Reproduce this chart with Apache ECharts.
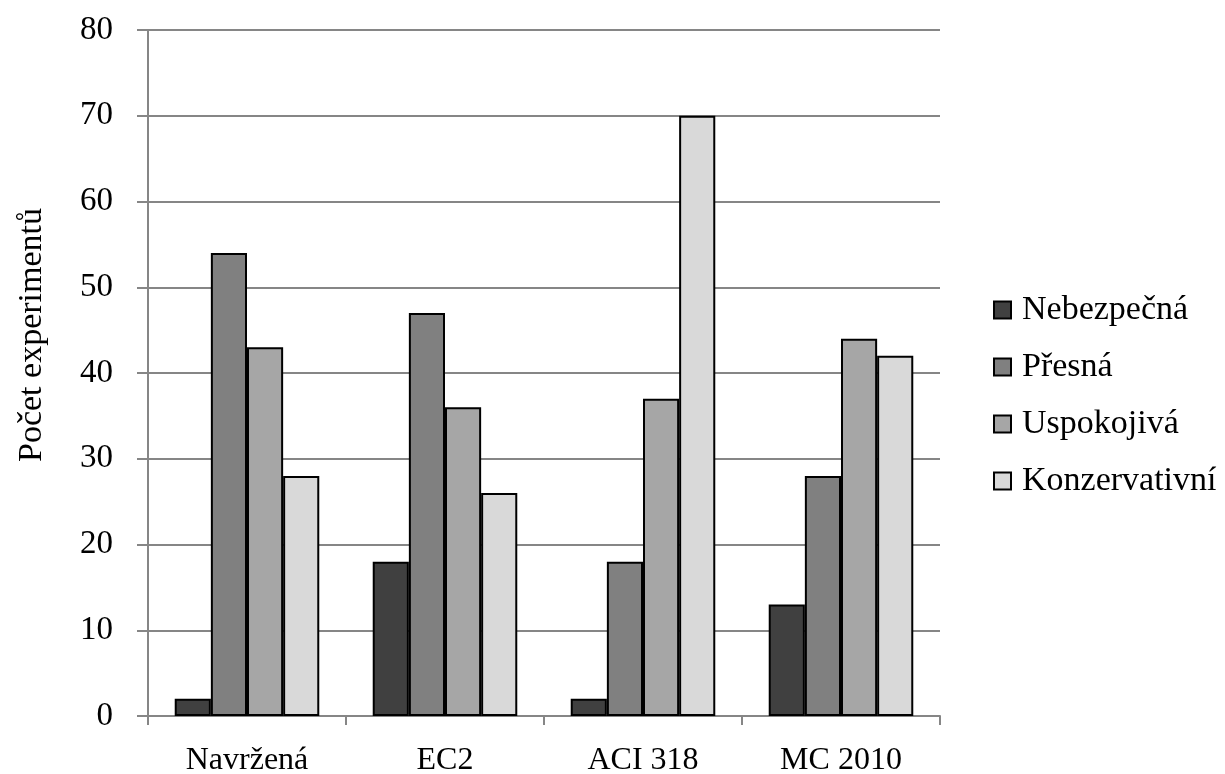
<!DOCTYPE html>
<html><head><meta charset="utf-8">
<script src="https://cdn.jsdelivr.net/npm/echarts@6/dist/echarts.min.js"></script>
<style>html,body{margin:0;padding:0;background:#fff}#c{width:1225px;height:774px}</style>
</head><body><div id="c"></div>
<script>
const categories = ['Navržená', 'EC2', 'ACI 318', 'MC 2010'];
const seriesNames = ['Nebezpečná', 'Přesná', 'Uspokojivá', 'Konzervativní'];
const nebezpecna = [2, 18, 2, 13];
const presna = [54, 47, 18, 28];
const uspokojiva = [43, 36, 37, 44];
const konzervativni = [28, 26, 70, 42];
const yTicks = [0, 10, 20, 30, 40, 50, 60, 70, 80];
const colors = ['#404040', '#808080', '#a6a6a6', '#d9d9d9'];
const values = [nebezpecna, presna, uspokojiva, konzervativni];
const FONT = '"Liberation Serif", "DejaVu Serif", serif';

const chart = echarts.init(document.getElementById('c'));
chart.setOption({
  animation: false,
  backgroundColor: '#fff',
  textStyle: { fontFamily: FONT },
  grid: { left: 148, right: 285, top: 30, bottom: 58, containLabel: false, outerBoundsMode: 'none' },
  legend: {
    orient: 'vertical', left: 993, top: 293, itemGap: 23, padding: 0,
    itemWidth: 17, itemHeight: 17, icon: 'rect',
    textStyle: { fontFamily: FONT, fontSize: 34, color: '#000', padding: [0, 0, 0, 6] },
    data: seriesNames
  },
  xAxis: {
    type: 'category', data: categories,
    axisLine: { lineStyle: { color: '#868686', width: 2 } },
    axisTick: { show: true, length: 9, lineStyle: { color: '#868686', width: 2 } },
    axisLabel: { fontFamily: FONT, fontSize: 32, color: '#000', margin: 29 }
  },
  yAxis: {
    type: 'value', min: 0, max: 80, interval: 10,
    axisLine: { show: true, lineStyle: { color: '#868686', width: 2 } },
    axisTick: { show: true, length: 11, lineStyle: { color: '#868686', width: 2 } },
    splitLine: { lineStyle: { color: '#868686', width: 2 } },
    axisLabel: { fontFamily: FONT, fontSize: 33, color: '#000', margin: 35,
      formatter: v => yTicks.includes(v) ? String(v) : '' }
  },
  graphic: [{
    type: 'text', x: 32, y: 335, rotation: Math.PI / 2,
    style: { text: 'Počet experimentů', font: '34px ' + FONT, fill: '#000',
      align: 'center', verticalAlign: 'middle' }
  }],
  series: seriesNames.map((n, i) => ({
    name: n, type: 'bar', data: values[i],
    barGap: '0%', barCategoryGap: '27%',
    itemStyle: { color: colors[i], borderColor: '#000', borderWidth: 2 }
  }))
});
</script></body></html>
